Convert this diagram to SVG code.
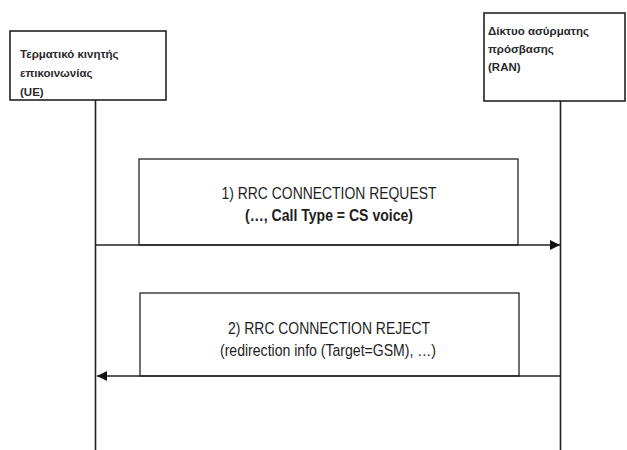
<svg xmlns="http://www.w3.org/2000/svg" width="627" height="450" viewBox="0 0 627 450">
  <style>
    .box { fill: #ffffff; stroke: #222222; stroke-width: 1.6; }
    .life { stroke: #222222; stroke-width: 1.6; fill: none; }
    .msg { stroke: #222222; stroke-width: 1.6; fill: none; }
    .lbl { fill: #ffffff; stroke: #333333; stroke-width: 1.4; }
    .node-text { font-family: "Liberation Sans", Arial, sans-serif; font-size: 11.5px; font-weight: bold; fill: #2a2a2a; }
    .msg-text { font-family: "Liberation Sans", Arial, sans-serif; font-size: 17px; fill: #1e1e1e; text-anchor: middle; }
    .bold { font-weight: bold; }
  </style>
  <defs>
    <marker id="arrow" viewBox="0 0 10 10" refX="10" refY="5" markerWidth="10" markerHeight="10" markerUnits="userSpaceOnUse" orient="auto">
      <path d="M0,0 L10,5 L0,10 z" fill="#111111"/>
    </marker>
  </defs>
  <rect x="0" y="0" width="627" height="450" fill="#ffffff"/>

  <g id="connectors">
    <line class="life" x1="95.5" y1="100" x2="95.5" y2="450"/>
    <line class="life" x1="560.5" y1="101" x2="560.5" y2="450"/>
    <g id="msg1">
      <rect class="lbl" x="139" y="159" width="379" height="86"/>
      <line class="msg" x1="95.5" y1="245" x2="560" y2="245" marker-end="url(#arrow)"/>
      <text class="msg-text" x="329" y="199" textLength="215" lengthAdjust="spacingAndGlyphs">1) RRC CONNECTION REQUEST</text>
      <text class="msg-text bold" x="329" y="221" textLength="168" lengthAdjust="spacingAndGlyphs">(…, Call Type = CS voice)</text>
    </g>
    <g id="msg2">
      <rect class="lbl" x="140" y="293" width="379" height="83"/>
      <line class="msg" x1="560.5" y1="376" x2="97" y2="376" marker-end="url(#arrow)"/>
      <text class="msg-text" x="329" y="334" textLength="202" lengthAdjust="spacingAndGlyphs">2) RRC CONNECTION REJECT</text>
      <text class="msg-text" x="328" y="356" textLength="216" lengthAdjust="spacingAndGlyphs">(redirection info (Target=GSM), …)</text>
    </g>
  </g>

  <g id="UE">
    <rect class="box" x="10" y="31" width="156" height="69"/>
    <text class="node-text" x="20" y="58">Τερματικό κινητής</text>
    <text class="node-text" x="20" y="77">επικοινωνίας</text>
    <text class="node-text" x="20" y="96">(UE)</text>
  </g>

  <g id="RAN">
    <rect class="box" x="484" y="13" width="141" height="88"/>
    <text class="node-text" x="488" y="35">Δίκτυο ασύρματης</text>
    <text class="node-text" x="488" y="53">πρόσβασης</text>
    <text class="node-text" x="488" y="71">(RAN)</text>
  </g>
</svg>
